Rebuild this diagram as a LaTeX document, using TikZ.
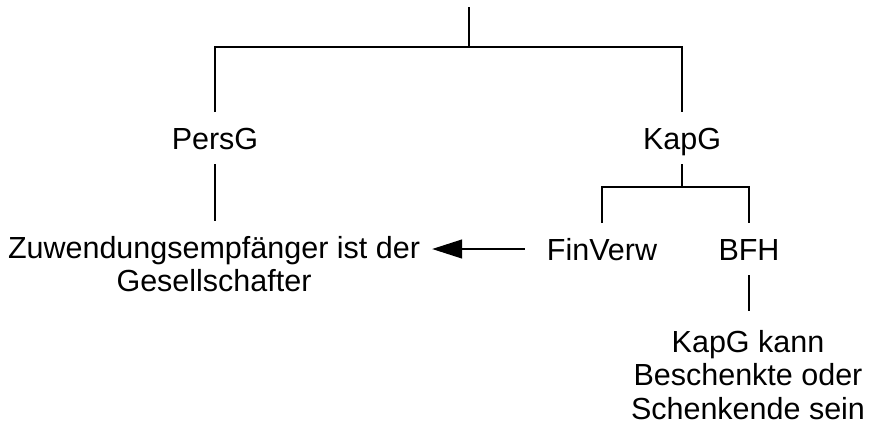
\documentclass[tikz,border=0pt]{standalone}
\usepackage{fontspec}
\setmainfont{Liberation Sans}
\usetikzlibrary{arrows.meta}
\tikzset{
  lbl/.style={font=\fontsize{30.5}{33.5}\selectfont, inner sep=0pt, text height=22pt, text depth=0pt, outer ysep=15pt},
  mlbl/.style={font=\fontsize{30.5}{33.5}\selectfont, inner sep=0pt, align=center},
  conn/.style={line width=1.2pt, draw=black},
  arr/.style={conn, -{Triangle[length=30pt,width=19pt]}}
}
\begin{document}
\begin{tikzpicture}[x=1pt,y=-1pt]
\useasboundingbox (0,0) rectangle (872,426);
\coordinate (root) at (469,7);
\coordinate (j1) at (469,47);
\coordinate (j2) at (682,187);
\node[lbl, anchor=base] (persg) at (215,149) {PersG};
\node[lbl, anchor=base] (kapg) at (682,149) {KapG};
\node[lbl, anchor=base] (fin) at (602,260) {FinVerw};
\node[lbl, anchor=base] (bfh) at (749,260) {BFH};
\node[mlbl, anchor=north, outer ysep=15pt] (zuw) at (214,221) {Zuwendungsempfänger ist der\\Gesellschafter};
\node[mlbl, anchor=north, outer ysep=19pt] (kk) at (748,311) {KapG kann\\Beschenkte oder\\Schenkende sein};
\draw[conn, line width=1.6pt] (root) -- (j1);
\draw[conn] (persg.north) |- (j1) -| (kapg.north);
\draw[conn] (kapg.south) -- (kapg.south |- j2);
\draw[conn] (fin.north) |- (j2) -| (bfh.north);
\draw[conn] (persg.south) -- (persg.south |- zuw.north);
\draw[conn] (bfh.south) -- (bfh.south |- kk.north);
\draw[arr, shorten <=22pt, shorten >=12pt] (fin.west) -- (fin.west -| zuw.east);
\end{tikzpicture}
\end{document}
